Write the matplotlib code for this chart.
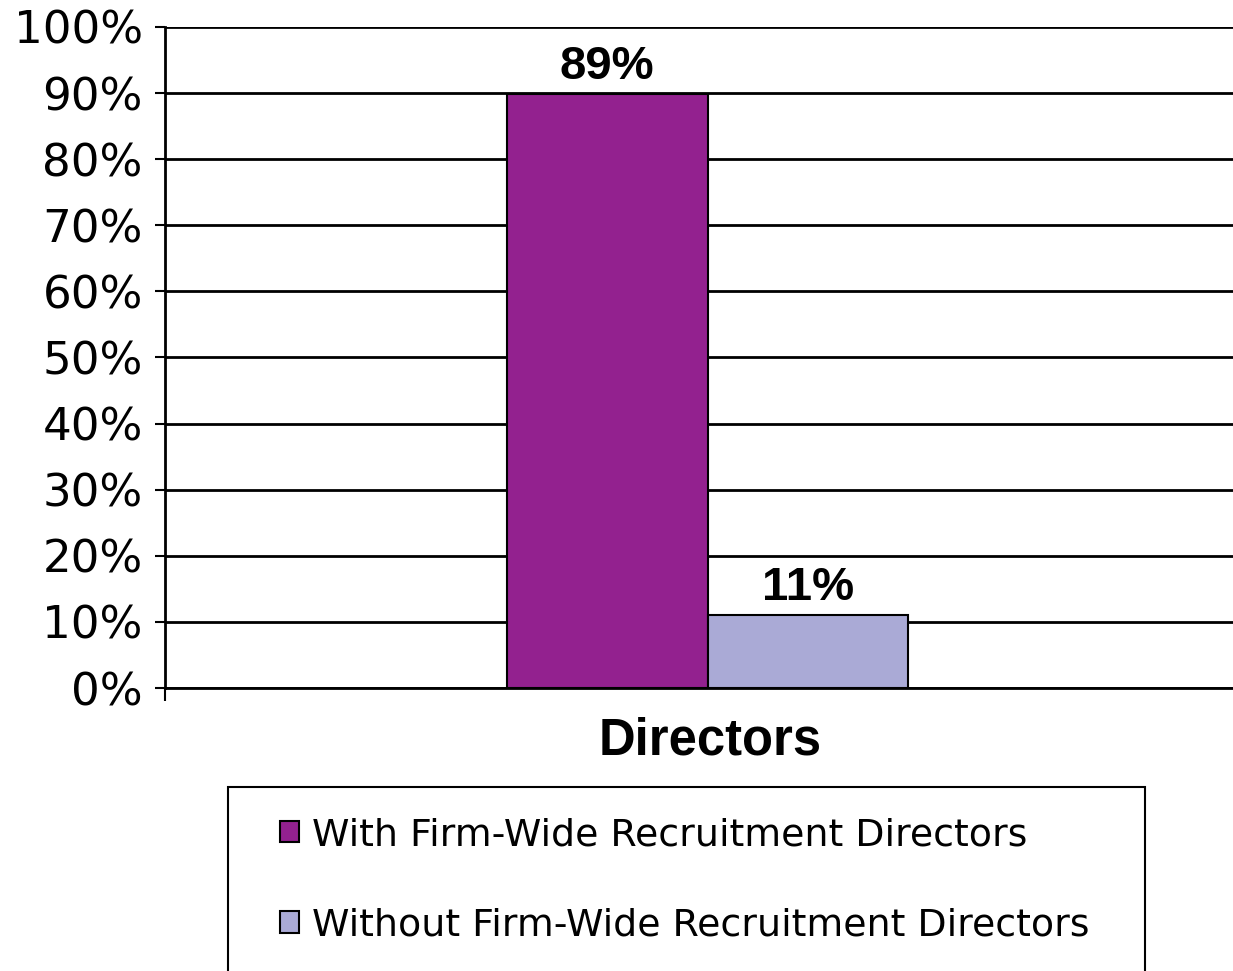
import matplotlib
matplotlib.use("Agg")
import matplotlib.pyplot as plt
from matplotlib.patches import Rectangle
import numpy as np

categories = ["Directors"]
series_names = ["With Firm-Wide Recruitment Directors",
                "Without Firm-Wide Recruitment Directors"]
values = [89.8, 11.0]          # bar heights as drawn (%)
value_labels = ["89%", "11%"]  # labels as printed
colors = ["#93218F", "#AAAAD6"]
yticks = [0, 10, 20, 30, 40, 50, 60, 70, 80, 90, 100]
ytick_labels = [f"{t}%" for t in yticks]

W, H = 1233, 971
fig = plt.figure(figsize=(W / 100, H / 100), dpi=100)
ax = fig.add_axes([165 / W, 1 - 688 / H, (1233 - 165) / W, (688 - 27) / H])

bar_w = 0.188
x0 = 0.0
offsets = [-bar_w / 2, bar_w / 2]
bars = []
for i, (v, c) in enumerate(zip(values, colors)):
    b = ax.bar(x0 + offsets[i], v, width=bar_w, color=c, edgecolor="black",
               linewidth=1.5, zorder=3, label=series_names[i])
    bars.append(b)
    ax.annotate(value_labels[i], (x0 + offsets[i], v), xytext=(0, 4),
                textcoords="offset points", ha="center", va="bottom",
                fontsize=34, fontweight="bold", family="Liberation Sans")

ax.set_xlim(-0.508, 0.492)
ax.set_ylim(0, 100)
ax.set_yticks(yticks)
ax.set_yticklabels(ytick_labels, fontsize=32.5, family="DejaVu Sans")
ax.yaxis.grid(True, color="black", linewidth=2, zorder=0)
ax.set_axisbelow(True)
ax.tick_params(axis="y", length=7, width=1.5, pad=9, direction="out")
ax.set_xticks([-0.508])
ax.set_xticklabels([""])
ax.tick_params(axis="x", length=9, width=1.5, direction="out")
for s in ["top", "right"]:
    ax.spines[s].set_visible(False)
ax.spines["left"].set_linewidth(2)
ax.spines["bottom"].set_linewidth(2)

fig.text(710 / W, 1 - 741 / H, categories[0], ha="center", va="center",
         fontsize=36.5, fontweight="bold", family="Liberation Sans")

# legend frame (extends past bottom edge)
fig.patches.append(Rectangle((228 / W, -0.05), (1145 - 228) / W, 0.05 + (1 - 787 / H),
                             transform=fig.transFigure, facecolor="white",
                             edgecolor="black", linewidth=1.5, zorder=1))
handles = [b[0] for b in bars]
leg = fig.legend(handles, series_names, loc="upper left",
                 bbox_to_anchor=(280 / W, 1 - 817 / H), frameon=False,
                 handlelength=0.5, handleheight=0.5,
                 handletextpad=0.35, labelspacing=1.44, borderpad=0,
                 borderaxespad=0, prop={"family": "DejaVu Sans", "size": 27.3})
leg.set_zorder(5)

fig.savefig("out.png", dpi=100)
